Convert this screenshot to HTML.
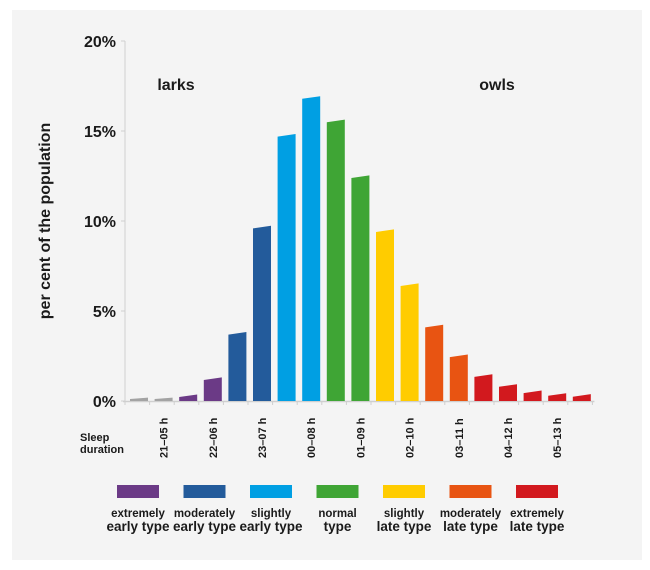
<!DOCTYPE html>
<html><head><meta charset="utf-8">
<style>
html,body{margin:0;padding:0;background:#fff;}
svg{display:block;font-family:"Liberation Sans",sans-serif;}
</style></head>
<body>
<svg id="chart" width="650" height="570" viewBox="0 0 650 570">
<rect x="12" y="10" width="630" height="550" fill="#f4f4f4"/>
<g id="axes"></g>
<g id="bars"></g>
<g id="xlabels"></g>
<g id="legend"></g>
<text x="176" y="90" text-anchor="middle" font-size="16" font-weight="bold" fill="#1a1a1a">larks</text>
<text x="497" y="90" text-anchor="middle" font-size="16" font-weight="bold" fill="#1a1a1a">owls</text>
<text transform="translate(50,221) rotate(-90)" text-anchor="middle" font-size="16" font-weight="bold" fill="#1a1a1a">per cent of the population</text>
<text x="80" y="441" font-size="11" font-weight="bold" fill="#1a1a1a"><tspan x="80">Sleep</tspan><tspan x="80" dy="12">duration</tspan></text>
</svg>
<script>
const values = [0.17,0.17,0.33,1.28,3.8,9.7,14.8,16.9,15.6,12.5,9.5,6.5,4.2,2.55,1.45,0.9,0.55,0.4,0.35];
const barGroups = [0,0,1,1,2,2,3,3,4,4,5,5,6,6,7,7,7,7,7];
const groupColors = ["#a3a3a3","#6b3a86","#235b9b","#009fe3","#3fa535","#ffcc00","#e85412","#d2191e"];
const yTicks = [0,5,10,15,20];
const yTickLabels = ["0%","5%","10%","15%","20%"];
const xLabels = ["21–05 h","22–06 h","23–07 h","00–08 h","01–09 h","02–10 h","03–11 h","04–12 h","05–13 h"];
const xLabelBars = [1,3,5,7,9,11,13,15,17];
const legendLine1 = ["extremely","moderately","slightly","normal","slightly","moderately","extremely"];
const legendLine2 = ["early type","early type","early type","type","late type","late type","late type"];

const NS="http://www.w3.org/2000/svg";
const x0=125, slot=24.6, bw=18, off=5;
const y = v => 401 - v*18;
const slotX = i => x0 + i*slot;
function mk(t,a,p){const e=document.createElementNS(NS,t);for(const k in a)e.setAttribute(k,a[k]);p.appendChild(e);return e;}
const axes=document.getElementById('axes');
const yAxis=mk('line',{x1:x0,y1:y(20),x2:x0,y2:y(0),stroke:'#cfcfcf','stroke-width':1},axes);


const xAxis=mk('line',{x1:x0-2,y1:y(0)+0.5,x2:slotX(values.length)+2,y2:y(0)+0.5,stroke:'#cfcfcf','stroke-width':1.5},axes);


yTicks.forEach((t,i)=>{
  const tk=mk('line',{x1:x0-4,y1:y(t),x2:x0,y2:y(t),stroke:'#cfcfcf'},axes);
  
  
  const tx=mk('text',{x:116,y:y(t)+6,'text-anchor':'end','font-size':16,'font-weight':'bold',fill:'#1a1a1a'},axes);
  tx.textContent=yTickLabels[i];
  
  
});
for(let i=0;i<=values.length;i++){
  const tk=mk('line',{x1:slotX(i),y1:y(0),x2:slotX(i),y2:y(0)+4,stroke:'#cfcfcf'},axes);
  
  
}
const bars=document.getElementById('bars');
values.forEach((v,i)=>{
  const l=slotX(i)+off, r=l+bw, top=y(v), b=y(0);
  const sl=Math.min(2,(b-top)/3);
  const p=mk('polygon',{points:`${l},${b} ${l},${top+sl} ${r},${top-sl*0.3} ${r},${b}`,fill:groupColors[barGroups[i]]},bars);
  
  
});
const xl=document.getElementById('xlabels');
xLabels.forEach((s,k)=>{
  const cx=slotX(xLabelBars[k])+off+bw/2+4;
  const t=mk('text',{transform:`translate(${cx},458) rotate(-90)`,'font-size':11,'font-weight':'bold',fill:'#1a1a1a'},xl);
  t.textContent=s;
  
  
});
const lg=document.getElementById('legend');
legendLine1.forEach((s,k)=>{
  const cx=138+k*66.5;
  const r=mk('rect',{x:cx-21,y:485,width:42,height:13,fill:groupColors[k+1]},lg);
  
  
  const t1=mk('text',{x:cx,y:517,'text-anchor':'middle','font-size':11.5,'font-weight':'bold',fill:'#1a1a1a'},lg);
  t1.textContent=s;
  
  
  const t2=mk('text',{x:cx,y:531,'text-anchor':'middle','font-size':13.5,'font-weight':'bold',fill:'#1a1a1a'},lg);
  t2.textContent=legendLine2[k];
  
  
});
</script>
</body></html>
